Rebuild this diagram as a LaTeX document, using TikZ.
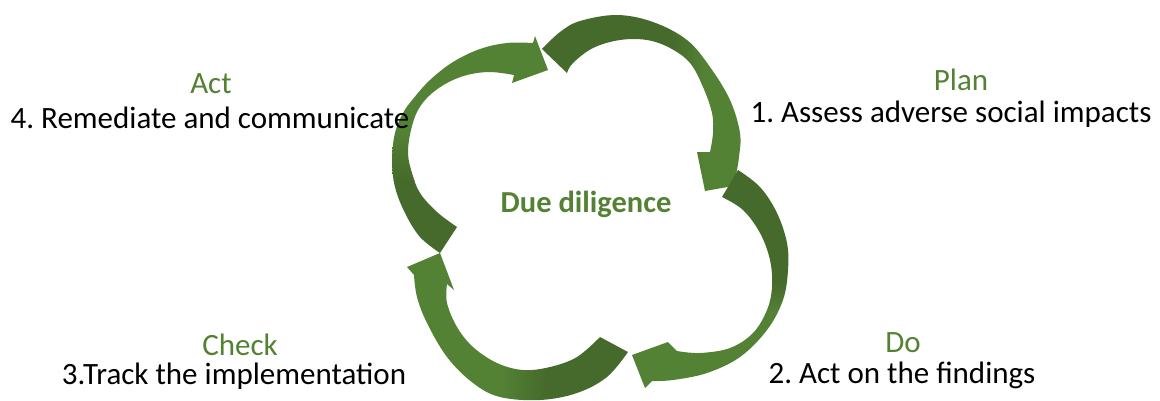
\documentclass[tikz,border=0pt]{standalone}
\usepackage{fontspec}
\setmainfont{Carlito}
\frenchspacing
\definecolor{leafdark}{RGB}{70,106,44}
\definecolor{leaflight}{RGB}{84,130,53}
\definecolor{labelgreen}{RGB}{84,130,53}
\begin{document}
\begin{tikzpicture}[x=1pt,y=-1pt,
  phase/.style={font=\fontsize{31}{36}\selectfont, text=labelgreen, inner sep=0pt, anchor=base},
  task/.style={font=\fontsize{31}{36}\selectfont, text=black, inner sep=0pt, anchor=base},
  hub/.style={font=\fontsize{30.5}{36}\selectfont\bfseries, text=labelgreen, inner sep=0pt, anchor=base}]
\useasboundingbox (0,0) rectangle (1160,400);

% junctions where one arrow tip meets the next arrow tail
\coordinate (tipA) at (548,70);
\coordinate (tipB) at (705,191);
\coordinate (tipC) at (632,355);
\coordinate (tipD) at (440,253);

% Act arrow: left side, from lower left up to the top
\def\arrowA{plot[smooth,tension=0.6] coordinates {(440,253) (420,237) (405,213) (395,187) (392,160) (395,133) (403,113) (413,99) (430,80) (453,62) (480,49) (507,43) (533,43)}
  -- (535,36) -- (tipA) -- (512,83)
  -- plot[smooth,tension=0.6] coordinates {(514,75) (490,72) (467,75) (447,83) (430,95) (418,110) (411,130) (408,153) (412,173) (420,193) (437,212) (457,227)} -- cycle}
% Plan arrow: top, from the top left round to the right side
\def\arrowB{plot[smooth,tension=0.6] coordinates {(542,49) (560,32) (580,21) (617,15) (653,22) (687,40) (710,67) (730,100) (740,133) (739,157) (736,175)}
  -- (739,185) -- (tipB) -- (697,152)
  -- plot[smooth,tension=0.6] coordinates {(710,152) (713,133) (712,113) (703,87) (690,63) (670,48) (647,40) (620,40) (593,48) (573,63) (567,73)} -- cycle}
% Do arrow: right side, from the top right down to the bottom
\def\arrowC{plot[smooth,tension=0.6] coordinates {(738,170) (760,187) (777,213) (787,243) (788,270) (783,300) (767,330) (740,357) (707,373) (673,380) (652,381)}
  -- (645,388) -- (tipC) -- (668,342)
  -- plot[smooth,tension=0.6] coordinates {(677,351) (700,353) (730,348) (753,333) (767,310) (772,287) (770,260) (760,233) (743,210) (722,197)} -- cycle}
% Check arrow: bottom, from the bottom right round and up the left side
\def\arrowD{plot[smooth,tension=0.6] coordinates {(628,352) (607,377) (577,393) (540,400) (500,397) (473,383) (447,357) (427,323) (417,297) (414,275)}
  -- (407,267) -- (tipD) -- (454,290)
  -- plot[smooth,tension=0.6] coordinates {(447,284) (447,303) (457,327) (473,347) (497,363) (523,370) (550,367) (577,357) (600,337)} -- cycle}

% each arrow: dark at the tail, lighter towards the head
\begin{scope}
  \clip \arrowA;
  \fill[leafdark] (380,180) rectangle (560,260);
  \shade[top color=leaflight,bottom color=leafdark] (380,130) rectangle (560,180);
  \fill[leaflight] (380,20) rectangle (560,130);
\end{scope}
\begin{scope}
  \clip \arrowB;
  \fill[leafdark] (530,5) rectangle (672,200);
  \shade[left color=leafdark,right color=leaflight] (672,5) rectangle (705,200);
  \fill[leaflight] (705,5) rectangle (750,200);
\end{scope}
\begin{scope}
  \clip \arrowC;
  \fill[leafdark] (620,160) rectangle (800,283);
  \shade[top color=leafdark,bottom color=leaflight] (620,283) rectangle (800,313);
  \fill[leaflight] (620,313) rectangle (800,400);
\end{scope}
\begin{scope}
  \clip \arrowD;
  \fill[leafdark] (545,240) rectangle (640,405);
  \shade[left color=leaflight,right color=leafdark] (500,240) rectangle (545,405);
  \fill[leaflight] (395,240) rectangle (500,405);
\end{scope}

% labels
\node[hub] (centre) at (586,212) {Due diligence};
\node[phase] (act) at (211,93) {Act};
\node[task] (remediate) at (210,128) {4. Remediate and communicate};
\node[phase] (plan) at (961,90) {Plan};
\node[task] (assess) at (951,122) {1. Assess adverse social impacts};
\node[phase] (check) at (240,355) {Check};
\node[task] (track) at (234,384) {3.Track the implementation};
\node[phase] (do) at (903,352) {Do};
\node[task] (findings) at (902,383) {2. Act on the findings};
\end{tikzpicture}
\end{document}
